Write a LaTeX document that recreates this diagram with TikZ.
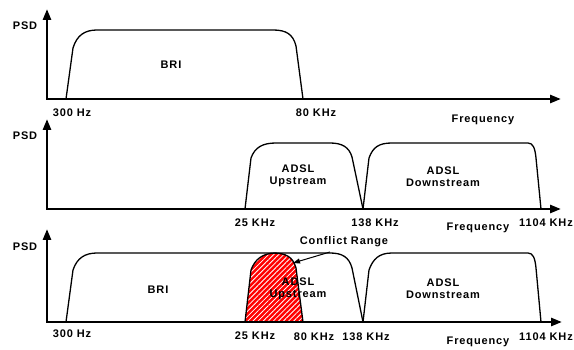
\documentclass[tikz,border=0pt]{standalone}
\usepackage{fontspec}
\setmainfont{Liberation Sans}[LetterSpace=8]
\usetikzlibrary{arrows.meta,patterns.meta}
\begin{document}
\begin{tikzpicture}[x=1pt,y=-1pt,
  axis/.style={line width=2.6pt,line join=miter,{Triangle[length=11pt,width=8pt]}-{Triangle[length=11pt,width=8pt]}},
  band/.style={line width=1.3pt,line join=round},
  lbl/.style={font=\fontsize{11}{12}\selectfont\bfseries,inner sep=0pt,align=center},
  conflict/.style={fill=red,postaction={pattern={Lines[angle=45,distance=3.6pt,line width=0.8pt]},pattern color=white}},
]
\useasboundingbox (0,0) rectangle (574,350);

% ---------- panel 1 ----------
\draw[band] (66,99) -- (73,48) .. controls (77,35) and (85,30) .. (97,30) -- (273,30) .. controls (286,30) and (293,34) .. (296,46) -- (303,99);
\draw[axis] (47,9) -- (47,99) -- (561,99);
\node[lbl] (psd1) at (25,26) {PSD};
\node[lbl] (bri1) at (171,65) {BRI};
\node[lbl] (f300a) at (72,113) {300 Hz};
\node[lbl] (f80a) at (316,113) {80 KHz};
\node[lbl] (freq1) at (483,120) {Frequency};

% ---------- panel 2 ----------
\draw[band] (245,209) -- (251,158) .. controls (255,147) and (263,143) .. (276,143) -- (330,143) .. controls (342,143) and (349,147) .. (352,157) -- (363,209);
\draw[band] (363,209) -- (369,158) .. controls (373,147) and (379,143) .. (392,143) -- (528,143) .. controls (533,143) and (535,148) .. (536,158) -- (541,209);
\draw[axis] (47,119) -- (47,209) -- (561,209);
\node[lbl] (psd2) at (25,136) {PSD};
\node[lbl] (up2) at (298,176) {ADSL\\Upstream};
\node[lbl] (down2) at (443,177) {ADSL\\Downstream};
\node[lbl] (f25b) at (255,223) {25 KHz};
\node[lbl] (f138b) at (375,223) {138 KHz};
\node[lbl] (freq2) at (478,228) {Frequency};
\node[lbl] (f1104b) at (546,223) {1104 KHz};

% ---------- panel 3 ----------
\path[conflict] (245,322) -- (251,270) .. controls (255,259) and (263,253) .. (275,253) .. controls (286,253) and (293,257) .. (296,268) -- (303,322) -- cycle;
\draw[band] (66,322) -- (73,270) .. controls (77,258) and (85,253) .. (97,253) -- (273,253) .. controls (286,253) and (293,257) .. (296,268) -- (303,322);
\draw[band] (245,322) -- (251,270) .. controls (255,259) and (263,253) .. (276,253) -- (330,253) .. controls (342,253) and (349,257) .. (352,268) -- (363,322);
\draw[band] (363,322) -- (369,270) .. controls (373,259) and (379,253) .. (392,253) -- (528,253) .. controls (533,253) and (535,258) .. (536,268) -- (541,322);
\draw[axis] (47,229) -- (47,322) -- (562,322);
\node[lbl] (psd3) at (25,247) {PSD};
\node[lbl] (bri3) at (158,290) {BRI};
\node[lbl] (up3) at (298,289) {ADSL\\Upstream};
\node[lbl] (down3) at (443,289) {ADSL\\Downstream};
\node[lbl] (f300c) at (72,334) {300 Hz};
\node[lbl] (f25c) at (255,336) {25 KHz};
\node[lbl] (f80c) at (314,337) {80 KHz};
\node[lbl] (f138c) at (366,337) {138 KHz};
\node[lbl] (freq3) at (478,342) {Frequency};
\node[lbl,anchor=east] (f1104c) at (573,337) {1104 KHz};
\node[lbl] (conf) at (344,242) {Conflict Range};
\coordinate (cs) at (330,252);
\coordinate (ce) at (293,263);
\draw[line width=1pt,-{Triangle[length=7pt,width=5pt]}] (cs) -- (ce);
\end{tikzpicture}
\end{document}
